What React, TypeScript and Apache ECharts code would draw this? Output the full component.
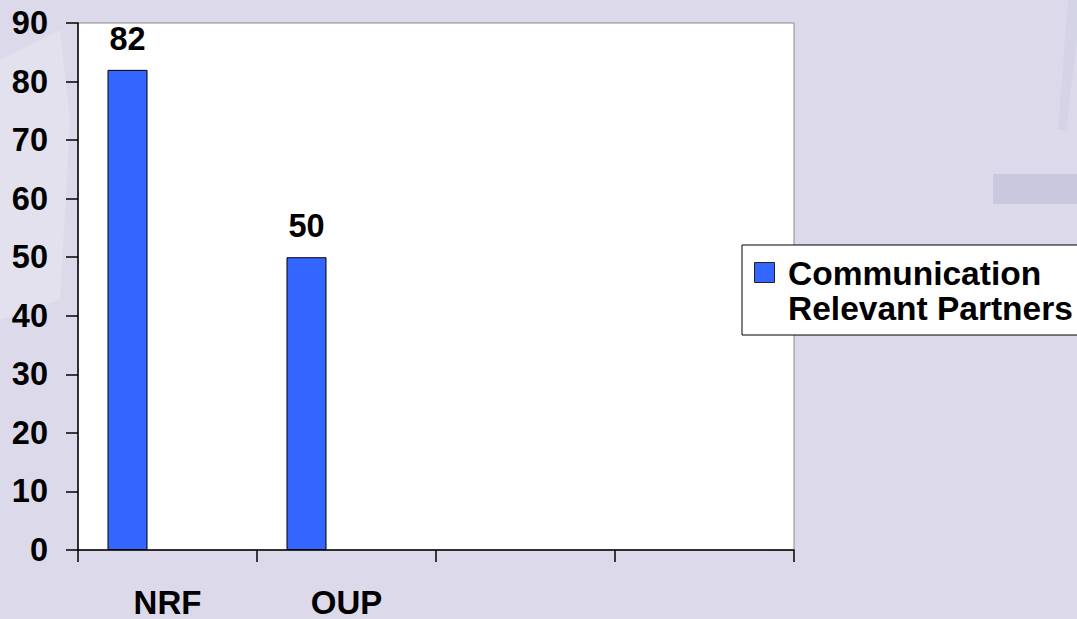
import React, { useEffect, useRef } from "react";
import * as echarts from "echarts";

const categories = ["NRF", "OUP", "", ""];
const seriesName = "Communication\nRelevant Partners";
const values = [82, 50, null, null];
const yTicks = { min: 0, max: 90, interval: 10 };

const FONT = "'Liberation Sans', Arial, sans-serif";

export default function App() {
  const ref = useRef<HTMLDivElement>(null);
  useEffect(() => {
    if (!ref.current) return;
    const chart = echarts.init(ref.current, undefined, { renderer: "svg" });
    const empty = categories.map(() => null);
    chart.setOption({
      animation: false,
      backgroundColor: "#dcdaea",
      textStyle: { fontFamily: FONT },
      grid: {
        left: 78,
        top: 23,
        right: 283,
        bottom: 69,
        show: true,
        backgroundColor: "#ffffff",
        borderColor: "#8a8a8a",
        borderWidth: 1,
      },
      xAxis: {
        type: "category",
        data: categories,
        boundaryGap: true,
        axisLine: { lineStyle: { color: "#000", width: 1.5 } },
        axisTick: { show: true, length: 12, lineStyle: { color: "#000", width: 1.5 } },
        axisLabel: {
          margin: 38,
          fontSize: 33,
          lineHeight: 28,
          fontWeight: "bold",
          color: "#000",
          fontFamily: FONT,
          interval: 0,
        },
        splitLine: { show: false },
      },
      yAxis: {
        type: "value",
        min: yTicks.min,
        max: yTicks.max,
        interval: yTicks.interval,
        axisLine: { show: true, lineStyle: { color: "#000", width: 1.5 } },
        axisTick: { show: true, length: 12, lineStyle: { color: "#000", width: 1.5 } },
        axisLabel: {
          margin: 30,
          fontSize: 32.5,
          lineHeight: 32,
          fontWeight: "bold",
          color: "#000",
          fontFamily: FONT,
        },
        splitLine: { show: false },
      },
      series: [
        {
          name: seriesName,
          type: "bar",
          data: values,
          barWidth: 40,
          barGap: "0%",
          itemStyle: { color: "#3366ff", borderColor: "#000", borderWidth: 1 },
          label: {
            show: true,
            position: "top",
            distance: 15,
            fontSize: 32.5,
            lineHeight: 32,
            fontWeight: "bold",
            color: "#000",
            fontFamily: FONT,
          },
        },
        { name: "_s2", type: "bar", data: empty, barWidth: 40, barGap: "0%" },
        { name: "_s3", type: "bar", data: empty, barWidth: 40, barGap: "0%" },
      ],
      graphic: [
        {
          type: "rect",
          silent: true,
          z: -10,
          shape: { x: 993, y: 174, width: 90, height: 30 },
          style: { fill: "#cac8de" },
        },
        {
          type: "polygon",
          silent: true,
          z: -10,
          shape: { points: [[1068, 0], [1077, 0], [1077, 40], [1066, 130], [1058, 130]] },
          style: { fill: "#d5d3e6" },
        },
        {
          type: "polygon",
          silent: true,
          z: -10,
          shape: { points: [[0, 60], [60, 30], [70, 120], [60, 300], [0, 320]] },
          style: { fill: "#e3e1ee" },
        },
        {
          type: "group",
          children: [
            {
              type: "rect",
              shape: { x: 742, y: 245, width: 345, height: 90 },
              style: { fill: "#ffffff", stroke: "#000", lineWidth: 1 },
            },
            {
              type: "rect",
              shape: { x: 754.5, y: 262.5, width: 20, height: 20 },
              style: { fill: "#3366ff", stroke: "#222", lineWidth: 1 },
            },
            {
              type: "text",
              x: 788,
              y: 256,
              style: {
                text: seriesName,
                fontSize: 33.5,
                lineHeight: 35,
                fontWeight: "bold",
                fontFamily: FONT,
                fill: "#000",
                verticalAlign: "top",
                align: "left",
              },
            },
          ],
        },
      ],
    });
    return () => chart.dispose();
  }, []);
  return (
    <div
      ref={ref}
      style={{ position: "fixed", left: 0, top: 0, width: 1077, height: 619 }}
    />
  );
}
